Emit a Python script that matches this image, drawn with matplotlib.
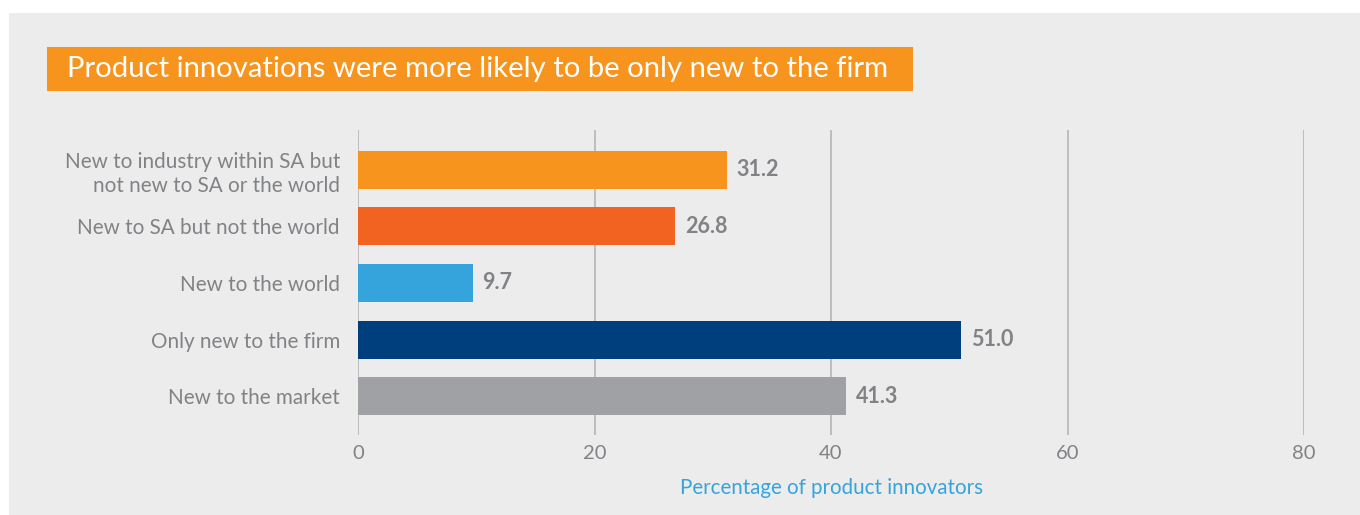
import matplotlib.pyplot as plt
from matplotlib.patches import Rectangle

# data (top to bottom)
categories = ["New to industry within SA but\nnot new to SA or the world",
              "New to SA but not the world",
              "New to the world",
              "Only new to the firm",
              "New to the market"]
values = [31.2, 26.8, 9.7, 51.0, 41.3]
colors = ["#f7941d", "#f26322", "#35a4dc", "#003f7d", "#a0a1a4"]
xticks = [0, 20, 40, 60, 80]

title = "Product innovations were more likely to be only new to the firm"
xlabel = "Percentage of product innovators"

plt.rcParams['font.family'] = ['Lato', 'DejaVu Sans']
txt_gray = "#808285"

fig = plt.figure(figsize=(13.6, 5.15), dpi=100)
fig.patch.set_facecolor("white")

# grey panel behind everything
fig.patches.append(Rectangle((9 / 1360, 0), 1 - 9 / 1360, 1 - 13 / 515,
                             transform=fig.transFigure, facecolor="#ececec",
                             edgecolor="none", zorder=-2))
# orange title box
fig.patches.append(Rectangle((47 / 1360, 1 - 91 / 515), 866 / 1360, 44 / 515,
                             transform=fig.transFigure, facecolor="#f7941d",
                             edgecolor="none", zorder=-1))
fig.text(67 / 1360, 1 - 69 / 515, title, color="white", fontsize=21.1,
         ha="left", va="center")

ax = fig.add_axes([358 / 1360, 1 - 435 / 515, (1304 - 358) / 1360, 305 / 515])
ax.set_facecolor("none")

ypos = list(range(len(categories)))
ax.barh(ypos, values, height=0.67, color=colors, zorder=3)
for y, v in zip(ypos, values):
    ax.annotate(f"{v:.1f}", (v, y), xytext=(7, 0), textcoords="offset points",
                ha="left", va="center", fontsize=15.5, fontweight="bold",
                color=txt_gray)

ax.set_xlim(0, 80)
ax.set_ylim(len(categories) - 0.315, -0.70)
ax.set_xticks(xticks)
ax.set_yticks(ypos)
ax.set_yticklabels(categories)
ax.tick_params(axis="y", length=0, pad=13, labelsize=14.9, labelcolor=txt_gray)
ax.tick_params(axis="x", length=0, pad=7, labelsize=14.5, labelcolor=txt_gray)
for lab in ax.get_yticklabels():
    lab.set_linespacing(1.25)
ax.grid(axis="x", color="#b5b5b5", linewidth=1.2, zorder=1)
for s in ax.spines.values():
    s.set_visible(False)

fig.text(831 / 1360, 1 - 488 / 515, xlabel, color="#35a4dc", fontsize=14.8,
         ha="center", va="center")

fig.savefig("out.png", dpi=100)
